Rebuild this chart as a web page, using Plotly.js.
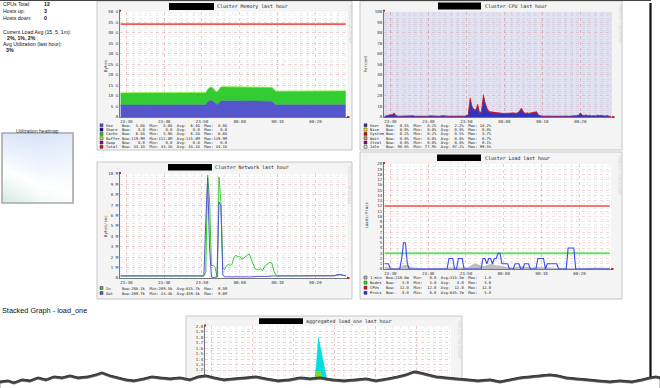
<!DOCTYPE html>
<html><head><meta charset="utf-8">
<script src="https://cdn.plot.ly/plotly-3.0.1.min.js"></script>
<style>html,body{margin:0;padding:0;background:#fff;overflow:hidden}#chart{width:660px;height:388px}</style>
</head><body><div id="chart"></div>
<script>
// ---------------- DATA ----------------
const summaryLabels = ['CPUs Total:', 'Hosts up:', 'Hosts down:'];
const summaryValues = ['12', '3', '0'];
const loadAvgLabel = 'Current Load Avg (15, 5, 1m):';
const loadAvgValue = '2%, 1%, 2%';
const utilLabel = 'Avg Utilization (last hour):';
const utilValue = '3%';

// time axis: 30 s samples starting 23:28:30
const START_SEC = 23 * 3600 + 28 * 60 + 30, STEP_SEC = 30, N_POINTS = 120;
const xTickLabels = ['23:30', '23:40', '23:50', '00:00', '00:10', '00:20'];

// Cluster Memory (GB)
const memUse = [
5.7,5.7,5.7,5.7,5.7,5.7,5.7,5.7,5.7,5.7,
5.7,5.7,5.7,5.7,5.7,5.7,5.7,5.7,5.7,5.7,
5.7,5.7,5.7,5.7,5.7,5.7,5.7,5.7,5.7,5.7,
5.8,5.8,5.8,5.8,5.8,5.8,5.8,5.8,5.8,5.8,
5.8,5.8,5.8,5.8,5.8,5.8,7.0,7.8,7.9,7.5,
6.5,5.9,6.8,7.6,7.7,7.7,7.7,7.7,7.7,7.7,
7.7,7.7,7.7,7.7,7.7,7.7,7.7,7.6,7.6,7.6,
7.6,7.6,7.6,7.6,7.6,7.6,7.6,7.6,7.6,7.5,
7.5,6.6,5.8,5.8,5.8,5.8,5.8,5.8,5.8,5.8,
5.8,5.8,5.8,5.8,5.8,5.8,5.8,5.8,5.8,5.8,
5.8,5.8,5.8,5.8,5.8,5.8,5.8,5.8,5.8,5.8,
5.8,5.8,5.8,5.8,5.8,5.8,5.8,5.8,5.8,5.8];
const memCache = [
5.7,5.7,5.7,5.7,5.7,5.7,5.7,5.7,5.7,5.7,
5.7,5.7,5.7,5.7,5.7,5.7,5.7,5.7,5.7,5.7,
5.7,5.7,5.7,5.7,5.7,5.7,5.7,5.7,5.7,5.7,
5.7,5.7,5.7,5.7,5.7,5.7,5.7,5.7,5.7,5.7,
5.7,5.7,5.7,5.7,5.7,5.7,6.0,6.2,6.2,6.0,
5.9,6.0,6.2,6.6,6.6,6.6,6.6,6.6,6.6,6.6,
6.6,6.6,6.6,6.6,6.6,6.6,6.6,6.6,6.6,6.6,
6.6,6.6,6.6,6.6,6.6,6.6,6.6,6.5,6.5,6.5,
6.5,6.5,6.4,6.4,6.4,6.4,6.4,6.4,6.4,6.4,
6.4,6.4,6.4,6.4,6.4,6.4,6.5,6.5,6.5,6.5,
6.5,6.5,6.5,6.5,6.5,6.5,6.5,6.5,6.5,6.5,
6.5,6.5,6.5,6.5,6.5,6.5,6.5,6.5,6.5,6.5];
const memBuffer = [
0.11,0.11,0.11,0.11,0.11,0.11,0.11,0.11,0.11,0.11,
0.11,0.11,0.11,0.11,0.11,0.11,0.11,0.11,0.11,0.11,
0.11,0.11,0.11,0.11,0.11,0.11,0.11,0.11,0.11,0.11,
0.11,0.11,0.11,0.11,0.11,0.11,0.11,0.11,0.11,0.11,
0.11,0.11,0.11,0.11,0.11,0.11,0.11,0.11,0.11,0.11,
0.11,0.11,0.11,0.11,0.11,0.11,0.11,0.11,0.11,0.11,
0.12,0.12,0.12,0.12,0.12,0.12,0.12,0.12,0.12,0.12,
0.12,0.12,0.12,0.12,0.12,0.12,0.12,0.12,0.12,0.12,
0.12,0.12,0.12,0.12,0.12,0.12,0.12,0.12,0.12,0.12,
0.12,0.12,0.12,0.12,0.12,0.12,0.12,0.12,0.12,0.12,
0.12,0.12,0.12,0.12,0.12,0.12,0.12,0.12,0.12,0.12,
0.12,0.12,0.12,0.12,0.12,0.12,0.12,0.12,0.12,0.12];
const memTotal = [44.1, 44.1];

// Cluster CPU (%)
const cpuUser = [
0.6,0.7,1.5,2.0,1.8,3.5,1.0,0.6,0.7,0.6,
0.6,1.0,0.6,0.6,0.7,1.0,0.6,0.5,0.6,0.6,
0.6,0.5,0.6,0.6,0.9,0.7,0.6,0.8,0.7,0.6,
1.0,0.7,0.6,0.8,0.6,0.7,0.6,0.6,0.8,0.6,
0.6,0.7,0.6,0.8,1.5,15.5,9.0,6.5,6.0,10.5,
3.0,5.0,18.2,11.5,7.0,4.5,4.0,3.5,3.8,3.6,
3.2,3.0,3.0,2.8,3.0,2.8,3.2,3.0,3.5,3.0,
3.5,5.0,7.5,4.5,3.0,3.5,2.8,3.5,3.8,3.5,
4.5,1.5,0.8,0.6,0.7,0.6,0.6,0.8,0.6,0.6,
0.7,0.6,0.6,0.8,0.6,0.6,0.7,0.6,0.6,0.6,
0.7,0.6,1.2,3.5,1.5,1.0,1.8,0.8,1.5,0.8,
1.2,0.7,1.5,1.3,0.8,1.0,0.7,1.2,0.6,0.5];
const cpuSystem = [
0.2,0.2,0.4,0.4,0.4,0.5,0.3,0.2,0.2,0.2,
0.2,0.2,0.2,0.2,0.2,0.2,0.2,0.2,0.2,0.2,
0.2,0.2,0.2,0.2,0.2,0.2,0.2,0.2,0.2,0.2,
0.2,0.2,0.2,0.2,0.2,0.2,0.2,0.2,0.2,0.2,
0.2,0.2,0.2,0.2,0.4,2.7,1.2,0.8,0.8,1.5,
0.5,0.8,3.0,1.5,1.0,0.8,0.8,1.0,0.6,0.6,
0.6,0.6,0.6,0.6,0.6,0.6,0.6,0.6,0.6,0.6,
0.6,0.6,1.0,0.6,0.6,0.6,0.6,0.6,0.6,0.6,
0.6,0.4,0.2,0.2,0.2,0.2,0.2,0.2,0.2,0.2,
0.2,0.2,0.2,0.2,0.2,0.2,0.2,0.2,0.2,0.2,
0.2,0.2,0.3,0.6,0.3,0.2,0.3,0.2,0.2,0.2,
0.2,0.2,0.2,0.2,0.2,0.2,0.2,0.2,0.2,0.2];

// Cluster Network (MB/s)
const netIn = [
0.2,0.2,0.2,0.2,0.2,0.2,0.2,0.2,0.2,0.2,
0.2,0.2,0.2,0.2,0.2,0.2,0.2,0.2,0.2,0.2,
0.2,0.2,0.2,0.2,0.2,0.2,0.2,0.2,0.25,0.2,
0.2,0.2,0.2,0.22,0.25,0.2,0.2,0.25,0.2,0.2,
0.2,0.2,0.2,0.2,0.2,0.6,9.9,7.4,1.2,1.2,
1.0,0.1,9.7,7.3,1.0,0.8,1.2,1.3,1.2,1.4,
2.0,2.2,2.0,2.1,1.8,1.9,2.1,2.2,2.3,1.8,
1.2,0.9,0.85,0.8,0.9,0.7,1.1,1.3,1.4,1.5,
1.4,0.7,0.3,0.2,0.2,0.2,0.2,0.2,0.2,0.2,
0.2,0.2,0.2,0.25,0.2,0.2,0.2,0.2,0.2,0.2,
0.2,0.2,0.2,0.2,0.2,0.2,0.25,0.2,0.2,0.2,
0.2,0.2,0.2,0.2,0.2,0.25,0.3,0.25,0.2,0.2];
const netOut = [
0.2,0.2,0.2,0.2,0.2,0.2,0.2,0.2,0.2,0.2,
0.2,0.2,0.2,0.2,0.2,0.2,0.2,0.2,0.2,0.2,
0.2,0.2,0.2,0.2,0.2,0.2,0.2,0.2,0.2,0.2,
0.2,0.2,0.2,0.2,0.2,0.2,0.2,0.2,0.2,0.2,
0.2,0.2,0.2,0.2,0.2,5.3,9.6,3.0,0.1,0.05,
0.05,0.1,7.3,7.0,0.3,0.1,0.12,0.1,0.1,0.12,
0.1,0.12,0.15,0.12,0.1,0.12,0.15,0.12,0.1,0.12,
0.15,0.12,0.12,0.15,0.15,0.12,0.15,0.15,0.18,0.2,
0.2,0.2,0.2,0.2,0.2,0.2,0.2,0.2,0.2,0.2,
0.2,0.2,0.2,0.2,0.2,0.2,0.2,0.2,0.2,0.2,
0.2,0.2,0.2,0.2,0.2,0.2,0.2,0.2,0.2,0.2,
0.2,0.2,0.2,0.2,0.3,0.35,0.35,0.3,0.25,0.2];

// Cluster Load
const load1min = [
0.4,0.35,0.3,0.25,0.2,0.15,0.15,0.2,0.3,0.5,
0.75,0.8,0.7,0.5,0.4,0.3,0.25,0.2,0.2,0.2,
0.2,0.15,0.15,0.2,0.2,0.2,0.15,0.15,0.2,0.2,
0.2,0.2,0.2,0.25,0.3,0.3,0.3,0.25,0.3,0.3,
0.3,0.25,0.2,0.2,0.3,0.5,0.75,0.95,1.0,0.95,
0.8,0.6,0.5,0.55,0.75,0.9,1.0,0.95,0.8,0.65,
0.7,0.6,0.5,0.45,0.4,0.35,0.3,0.3,0.3,0.35,
0.4,0.5,0.6,0.55,0.45,0.4,0.35,0.3,0.3,0.35,
0.4,0.45,0.4,0.35,0.3,0.3,0.35,0.3,0.3,0.25,
0.25,0.2,0.2,0.2,0.2,0.2,0.25,0.3,0.3,0.25,
0.2,0.2,0.15,0.15,0.2,0.2,0.2,0.2,0.2,0.25,
0.25,0.3,0.3,0.3,0.3,0.25,0.25,0.2,0.2,0.21];
const loadProcs = [
1,1,1,0,0,0,0,0,0,2,
5,5,1,0,0,0,0,0,0,0,
0,0,0,0,0,0,0,0,0,0,
0,0,0,0,2,2,2,0,0,2,
2,2,0,0,0,0,0,0,0,0,
0,0,2,2,1,2,2,1,2,2,
3,3,1,1,1,1,0,0,0,1,
1,1,0,0,1,1,1,0,0,0,
0,2,2,2,2,0,1,1,1,1,
1,1,0,0,0,0,0,4,4,4,
4,0,0,0,0,0,0,0,0,0,
0,0,0,0,0,0,0,0,0,0];
const loadNodes = [3, 3];
const loadCpus = [12, 12];

// aggregated load_one, per host (stacked)
const aggHostA = [
0.3,0.3,0.3,0.3,0.3,0.3,0.3,0.3,0.3,0.3,
0.3,0.3,0.3,0.3,0.3,0.3,0.3,0.3,0.3,0.3,
0.3,0.3,0.3,0.3,0.3,0.3,0.3,0.3,0.3,0.3,
0.3,0.3,0.3,0.3,0.3,0.3,0.3,0.3,0.3,0.3,
0.3,0.3,0.3,0.3,0.3,0.3,0.35,0.35,0.4,0.35,
0.3,0.3,0.3,0.45,0.6,0.6,0.6,0.55,0.5,0.45,
0.4,0.35,0.3,0.3,0.3,0.3,0.3,0.3,0.3,0.3,
0.3,0.3,0.3,0.3,0.3,0.3,0.3,0.3,0.3,0.3,
0.3,0.3,0.3,0.3,0.3,0.3,0.3,0.3,0.3,0.3,
0.3,0.3,0.3,0.3,0.3,0.3,0.3,0.3,0.3,0.3,
0.3,0.3,0.3,0.3,0.3,0.3,0.3,0.3,0.3,0.3,
0.3,0.3,0.3,0.3,0.3,0.3,0.3,0.3,0.3,0.3];
const aggHostB = [
0.15,0.15,0.15,0.15,0.15,0.15,0.15,0.15,0.15,0.15,
0.15,0.15,0.15,0.15,0.15,0.15,0.15,0.15,0.15,0.15,
0.15,0.15,0.15,0.15,0.15,0.15,0.15,0.15,0.15,0.15,
0.15,0.15,0.15,0.15,0.15,0.15,0.15,0.15,0.15,0.15,
0.15,0.15,0.15,0.15,0.15,0.15,0.2,0.25,0.3,0.25,
0.2,0.15,0.15,0.35,0.57,0.57,0.57,0.4,0.35,0.3,
0.25,0.2,0.15,0.15,0.15,0.15,0.15,0.15,0.15,0.15,
0.15,0.15,0.15,0.15,0.15,0.15,0.15,0.15,0.15,0.15,
0.15,0.15,0.15,0.15,0.15,0.15,0.15,0.15,0.15,0.15,
0.15,0.15,0.15,0.15,0.15,0.15,0.15,0.15,0.15,0.15,
0.15,0.15,0.15,0.15,0.15,0.15,0.15,0.15,0.15,0.15,
0.15,0.15,0.15,0.15,0.15,0.15,0.15,0.15,0.15,0.15];
const aggHostC = [
0.2,0.2,0.2,0.2,0.2,0.2,0.2,0.2,0.2,0.2,
0.2,0.2,0.2,0.2,0.2,0.2,0.2,0.2,0.2,0.2,
0.2,0.2,0.2,0.2,0.2,0.2,0.2,0.2,0.2,0.2,
0.2,0.2,0.2,0.2,0.2,0.2,0.2,0.2,0.2,0.2,
0.2,0.2,0.2,0.2,0.2,0.2,0.25,0.3,0.38,0.3,
0.25,0.2,0.2,0.2,0.13,0.63,0.43,0.5,0.4,0.25,
0.2,0.2,0.2,0.2,0.2,0.2,0.2,0.2,0.2,0.2,
0.2,0.2,0.2,0.2,0.2,0.2,0.2,0.2,0.2,0.2,
0.2,0.2,0.2,0.2,0.2,0.2,0.2,0.2,0.2,0.2,
0.2,0.2,0.2,0.2,0.2,0.2,0.2,0.2,0.2,0.2,
0.2,0.2,0.2,0.2,0.2,0.2,0.2,0.2,0.2,0.2,
0.2,0.2,0.2,0.2,0.2,0.2,0.2,0.2,0.2,0.2];

// utilization heatmap (rows bottom -> top)
const heatZ = [[0.05, 0.35, 0.5], [0.55, 0.7, 0.65], [0.95, 1.0, 0.9]];
const heatPos = [0, 0.5, 1];

// axis tick labels
const memTickVals = [0, 5, 10, 15, 20, 25, 30, 35, 40, 45, 50];
const memTickText = ['0', '5 G', '10 G', '15 G', '20 G', '25 G', '30 G', '35 G', '40 G', '45 G', '50 G'];
const netTickVals = [0, 1, 2, 3, 4, 5, 6, 7, 8, 9, 10];
const netTickText = ['0', '1 M', '2 M', '3 M', '4 M', '5 M', '6 M', '7 M', '8 M', '9 M', '10 M'];
const aggTickVals = [1.2, 1.3, 1.4, 1.5, 1.6, 1.7, 1.8, 1.9, 2.0];

// legend texts
const memLegend = [
  ['Use',    '5.8G',   '5.8G',   '6.4G',   '8.0G',   '#5555cc'],
  ['Share',  '0.0',    '0.0',    '0.0',    '0.0',    '#0000aa'],
  ['Cache',  '6.5G',   '5.9G',   '6.2G',   '6.6G',   '#33cc33'],
  ['Buffer', '119.9M', '112.0M', '115.0M', '119.9M', '#99ff33'],
  ['Swap',   '0.0',    '0.0',    '0.0',    '0.0',    '#9900aa'],
  ['Total',  '44.1G',  '44.1G',  '44.1G',  '44.1G',  '#ff0000']];
const cpuLegend = [
  ['User',   '0.5%',  '0.2%',  '2.2%',  '18.2%', '#3333bb'],
  ['Nice',   '0.0%',  '0.0%',  '0.0%',  '0.0%',  '#ffea00'],
  ['System', '0.2%',  '0.2%',  '0.5%',  '3.7%',  '#dd0000'],
  ['Wait',   '0.0%',  '0.0%',  '0.0%',  '0.7%',  '#ff8a60'],
  ['Steal',  '0.0%',  '0.0%',  '0.0%',  '0.1%',  '#990099'],
  ['Idle',   '98.8%', '77.9%', '97.2%', '99.5%', '#e2e2f2']];
const netLegend = [
  ['In',  '208.1k', '209.5k', '815.7k', '9.5M', '#33cc33'],
  ['Out', '209.7k', '24.4k',  '459.4k', '9.6M', '#5555cc']];
const loadLegend = [
  ['1-min', '210.0m', '0.0',  '315.5m', '1.0',  '#bbbbbb'],
  ['Nodes', '3.0',    '3.0',  '3.0',    '3.0',  '#00ff00'],
  ['CPUs',  '12.0',   '12.0', '12.0',   '12.0', '#ff0000'],
  ['Procs', '0.0',    '0.0',  '635.7m', '5.0',  '#2030f4']];

// ---------------- BUILD ----------------
const W = 660, H = 388;
const px = x => x / W, py = y => 1 - y / H;
const mono = 'DejaVu Sans Mono', sans = 'Liberation Sans';
function stamp(sec) {
  let day = 1; if (sec >= 86400) { sec -= 86400; day = 2; }
  const p = v => String(v).padStart(2, '0');
  return '2013-05-0' + day + ' ' + p(Math.floor(sec / 3600)) + ':' + p(Math.floor(sec % 3600 / 60)) + ':' + p(sec % 60);
}
const times = [];
for (let i = 0; i < N_POINTS; i++) times.push(stamp(START_SEC + i * STEP_SEC));
const ends = [times[0], times[N_POINTS - 1]];
const tRange = [stamp(23 * 3600 + 28 * 60 + 20), stamp(86400 + 28 * 60 + 20)];
const tickVals = xTickLabels.map((t, k) => stamp(23 * 3600 + 30 * 60 + k * 600));

const P = {
  mem:  {plot: [120, 11.7, 347, 117], panel: [97, 1, 352, 150]},
  cpu:  {plot: [384, 11.7, 612, 117], panel: [360, 1, 622, 150]},
  net:  {plot: [120, 174, 347, 278], panel: [97, 162, 352, 299]},
  load: {plot: [384, 164, 611, 269], panel: [360, 152, 622, 299]},
  agg:  {plot: [205, 326.4, 451, 388], panel: [186, 316, 462, 400]},
  heat: {plot: [2, 133, 73, 203]}
};
const dx = r => [px(r[0]), px(r[2])], dy = r => [py(r[3]), py(r[1])];
const MAJ = 'rgba(225,70,70,0.2)', MIN = 'rgba(120,120,120,0.11)';
const tickFont = {family: mono, size: 4.1, color: '#333'};

function timeAxis(r, anchor) {
  return {domain: dx(r), anchor: anchor, type: 'date', range: tRange, tickmode: 'array',
    tickvals: tickVals, ticktext: xTickLabels, showgrid: true, gridcolor: MAJ, griddash: 'dot', gridwidth: 1,
    minor: {dtick: 120000, tick0: tickVals[0], showgrid: true, gridcolor: MIN, griddash: 'dot', ticks: ''},
    showline: true, linecolor: '#777', linewidth: 1, ticks: '', tickfont: tickFont, ticklabelstandoff: -1.3,
    zeroline: false, fixedrange: true};
}
function valAxis(r, anchor, range, extra, minorDt) {
  return Object.assign({domain: dy(r), anchor: anchor, range: range, showgrid: true, gridcolor: MAJ,
    griddash: 'dot', gridwidth: 1, minor: {dtick: minorDt, showgrid: true, gridcolor: MIN, griddash: 'dot', ticks: ''},
    showline: true, linecolor: '#777', linewidth: 1, ticks: '', tickfont: tickFont, zeroline: false,
    fixedrange: true}, extra);
}

const area = (y, xa, ya, grp, color) => ({type: 'scatter', mode: 'lines', x: times, y: y, xaxis: xa, yaxis: ya,
  stackgroup: grp, fillcolor: color, line: {width: 0.5, color: color}, hoverinfo: 'skip'});
const line = (x, y, xa, ya, color, w) => ({type: 'scatter', mode: 'lines', x: x, y: y, xaxis: xa, yaxis: ya,
  line: {color: color, width: w}, hoverinfo: 'skip'});

const traces = [
  area(memUse, 'x', 'y', 'mem', '#5555cc'),
  area(memCache, 'x', 'y', 'mem', '#33cc33'),
  area(memBuffer, 'x', 'y', 'mem', '#99ff33'),
  line(ends, memTotal, 'x', 'y', '#ee5a5a', 1.6),
  area(cpuUser, 'x2', 'y2', 'cpu', '#3333bb'),
  area(cpuSystem, 'x2', 'y2', 'cpu', '#dd0000'),
  line(times, netIn, 'x3', 'y3', '#33cc33', 1),
  line(times, netOut, 'x3', 'y3', '#5555cc', 1),
  {type: 'scatter', mode: 'lines', x: times, y: load1min, xaxis: 'x4', yaxis: 'y4', fill: 'tozeroy',
   fillcolor: '#bdbdbd', line: {width: 0, color: '#bdbdbd'}, hoverinfo: 'skip'},
  line(ends, loadNodes, 'x4', 'y4', '#66dd66', 1.8),
  line(ends, loadCpus, 'x4', 'y4', '#f27777', 1.8),
  line(times, loadProcs, 'x4', 'y4', '#3848f0', 1.1),
  area(aggHostA, 'x5', 'y5', 'agg', '#5c7cfa'),
  area(aggHostB, 'x5', 'y5', 'agg', '#88dd00'),
  area(aggHostC, 'x5', 'y5', 'agg', '#00dede'),
  {type: 'heatmap', z: heatZ, x: heatPos, y: heatPos, xaxis: 'x6', yaxis: 'y6', zsmooth: 'best',
   showscale: false, hoverinfo: 'skip',
   colorscale: [[0, '#d2e9de'], [0.5, '#ffffff'], [1, '#d8e4fa']]}
];

// shapes
const shapes = [];
function rect(r, fill, lineColor, lw, layer) {
  shapes.push({type: 'rect', xref: 'paper', yref: 'paper', x0: px(r[0]), x1: px(r[2]), y0: py(r[3]), y1: py(r[1]),
    fillcolor: fill, line: {color: lineColor || fill, width: lw || 0}, layer: layer || 'below'});
}
['mem', 'cpu', 'net', 'load', 'agg'].forEach(k => rect(P[k].panel, '#f4f4f4', '#c6c6c6', 1));
['mem', 'net', 'load', 'agg'].forEach(k => rect(P[k].plot, '#ffffff'));
rect(P.cpu.plot, '#e2e2f2');
// title redaction boxes
[[169, 3, 214, 10], [438, 2.5, 481, 9.5], [168, 164, 212, 170.5], [437, 154.5, 481, 161], [259, 318.3, 303, 324]]
  .forEach(r => rect(r, '#000000', '#000000', 0, 'above'));
// small red arrow marks at axis ends
['mem', 'cpu', 'net', 'load', 'agg'].forEach(k => {
  const p = P[k].plot;
  rect([p[0] - 1, p[1] - 2, p[0] + 1, p[1]], '#cc2222', '#cc2222', 0, 'above');
  if (k !== 'agg') rect([p[2], p[3] - 1, p[2] + 2.5, p[3] + 1], '#cc2222', '#cc2222', 0, 'above');
});
// heatmap frame
shapes.push({type: 'rect', xref: 'paper', yref: 'paper', x0: px(2), x1: px(73), y0: py(203), y1: py(133),
  line: {color: '#a8a8a8', width: 1.6}, fillcolor: 'rgba(0,0,0,0)', layer: 'above'});
// legend colour squares
function squares(rows, x, ys) {
  rows.forEach((r, k) => rect([x, ys[k] - 1.5, x + 3, ys[k] + 1.5], r[5], '#333', 0.5, 'above'));
}
const memRows = [125.3, 129.6, 133.9, 138.2, 142.5, 146.8];
const netRows = [288, 293];
const loadRows = [277.5, 282.6, 287.7, 292.8];
squares(memLegend, 100, memRows);
squares(cpuLegend, 364, memRows);
squares(netLegend, 100, netRows);
squares(loadLegend, 364, loadRows);
// frame of the screenshot: top line, right shadow, torn bottom edge
shapes.push({type: 'line', xref: 'paper', yref: 'paper', x0: 0, x1: px(651), y0: py(0.5), y1: py(0.5),
  line: {color: '#444', width: 1}, layer: 'above'});
shapes.push({type: 'line', xref: 'paper', yref: 'paper', x0: px(650.5), x1: px(650.5), y0: py(378), y1: py(3),
  line: {color: '#111', width: 2.2}, layer: 'above'});
const torn = [[0,381],[8,380],[14,382],[22,379],[30,380],[38,377],[46,379],[54,376],[62,377],[70,375],[78,377],[88,376],
  [96,374],[102,372],[110,375],[118,377],[126,379],[134,380],[144,378],[152,376],[160,377],[170,378],[180,377],[190,379],
  [198,376],[206,375],[214,377],[224,379],[234,378],[246,377],[256,376],[266,378],[278,380],[290,379],[300,377],[310,378],
  [320,377],[332,379],[344,380],[356,379],[366,378],[376,380],[388,378],[398,376],[406,374],[414,371],[420,372],[428,374],
  [436,376],[446,377],[456,378],[468,379],[478,380],[490,379],[500,381],[510,379],[520,377],[530,376],[540,375],[550,374],
  [558,375],[566,377],[576,378],[588,379],[598,380],[610,381],[620,380],[632,381],[642,379],[650,377],[656,376],[660,377]];
function tornPath(dy) {
  let s = 'M ' + px(0) + ',' + py(400);
  torn.forEach(p => { s += ' L ' + px(p[0]) + ',' + py(p[1] + dy); });
  return s + ' L ' + px(660) + ',' + py(400) + ' Z';
}
shapes.push({type: 'path', xref: 'paper', yref: 'paper', path: tornPath(0), fillcolor: '#444444',
  line: {color: '#333333', width: 1}, layer: 'above'});
shapes.push({type: 'path', xref: 'paper', yref: 'paper', path: tornPath(2.2), fillcolor: '#ffffff',
  line: {color: '#555555', width: 0.6}, layer: 'above'});

// annotations
const ann = [];
function txt(x, y, t, o) {
  ann.push(Object.assign({xref: 'paper', yref: 'paper', x: px(x), y: py(y), text: t, showarrow: false,
    xanchor: 'left', yanchor: 'middle', borderpad: 0, font: {family: mono, size: 4.2, color: '#222'}}, o || {}));
}
const nb = s => s.replace(/ /g, '\u00a0');
const pad = (s, n) => s.padStart(n, ' ');
function legendRows(rows, x, ys) {
  rows.forEach((r, k) => txt(x, ys[k], nb(r[0].padEnd(6, ' ') + ' Now:' + pad(r[1], 6) + '  Min:' + pad(r[2], 6) +
    '  Avg:' + pad(r[3], 6) + '  Max:' + pad(r[4], 6)), {font: {family: mono, size: 3.8, color: '#222'}}));
}
legendRows(memLegend, 104.5, memRows);
legendRows(cpuLegend, 368.5, memRows);
legendRows(netLegend, 104.5, netRows);
legendRows(loadLegend, 368.5, loadRows);

const titleFont = {family: mono, size: 4.9, color: '#222'};
txt(215.5, 6.6, 'Cluster Memory last hour', {font: titleFont});
txt(483.5, 6.1, 'Cluster CPU last hour', {font: titleFont});
txt(213.5, 167.3, 'Cluster Network last hour', {font: titleFont});
txt(483.5, 157.8, 'Cluster Load last hour', {font: titleFont});
txt(305, 321.2, 'aggregated load_one last hour', {font: titleFont});

const yt = {textangle: -90, xanchor: 'center', font: {family: mono, size: 4, color: '#333'}};
txt(105, 66, 'Bytes', yt);
txt(365.5, 64, 'Percent', yt);
txt(105, 226, 'Bytes/sec', yt);
txt(365.5, 215, 'Loads/Procs', yt);

const rrd = {textangle: 90, xanchor: 'center', yanchor: 'top', font: {family: sans, size: 3, color: '#cfcfcf'}};
txt(349.5, 4, 'RRDTOOL / TOBI OETIKER', rrd);
txt(619, 4, 'RRDTOOL / TOBI OETIKER', rrd);
txt(349.5, 165, 'RRDTOOL / TOBI OETIKER', rrd);
txt(619, 155, 'RRDTOOL / TOBI OETIKER', rrd);
txt(459, 319, 'RRDTOOL / TOBI OETIKER', rrd);

// left summary
const sf = {family: sans, size: 5.2, color: '#111'};
summaryLabels.forEach((l, k) => {
  txt(1.5, 4.3 + k * 6.7, l, {font: sf});
  txt(43, 4.3 + k * 6.7, '<b>' + summaryValues[k] + '</b>', {font: sf});
});
txt(1.5, 31.8, loadAvgLabel, {font: sf});
txt(5.5, 37.8, '<b>' + loadAvgValue + '</b>', {font: sf});
txt(1.5, 44.2, utilLabel, {font: sf});
txt(5, 50.3, '<b>' + utilValue + '</b>', {font: sf});
txt(37.5, 130.5, 'Utilization heatmap', {xanchor: 'center', font: {family: sans, size: 5, color: '#333'}});
txt(1, 310.5, 'Stacked Graph - load_one', {font: {family: sans, size: 7.3, color: '#111'}});

const layout = {
  width: W, height: H, margin: {l: 0, r: 0, t: 0, b: 0}, showlegend: false,
  paper_bgcolor: '#ffffff', plot_bgcolor: 'rgba(0,0,0,0)',
  xaxis: timeAxis(P.mem.plot, 'y'),
  yaxis: valAxis(P.mem.plot, 'x', [0, 50], {tickmode: 'array', tickvals: memTickVals, ticktext: memTickText}, 1),
  xaxis2: timeAxis(P.cpu.plot, 'y2'),
  yaxis2: valAxis(P.cpu.plot, 'x2', [0, 100], {dtick: 10, tick0: 0}, 2),
  xaxis3: timeAxis(P.net.plot, 'y3'),
  yaxis3: valAxis(P.net.plot, 'x3', [0, 10], {tickmode: 'array', tickvals: netTickVals, ticktext: netTickText}, 0.2),
  xaxis4: timeAxis(P.load.plot, 'y4'),
  yaxis4: valAxis(P.load.plot, 'x4', [0, 20], {dtick: 1, tick0: 0}, 0.5),
  xaxis5: Object.assign(timeAxis(P.agg.plot, 'y5'), {showticklabels: false}),
  yaxis5: valAxis(P.agg.plot, 'x5', [0.87, 2.0], {tickmode: 'array', tickvals: aggTickVals,
    ticktext: aggTickVals.map(v => v.toFixed(1))}, 0.05),
  xaxis6: {domain: dx(P.heat.plot), anchor: 'y6', range: [0, 1], visible: false, fixedrange: true},
  yaxis6: {domain: dy(P.heat.plot), anchor: 'x6', range: [0, 1], visible: false, fixedrange: true},
  shapes: shapes, annotations: ann
};
Plotly.newPlot('chart', traces, layout, {staticPlot: true, displayModeBar: false});
</script>
</body></html>
